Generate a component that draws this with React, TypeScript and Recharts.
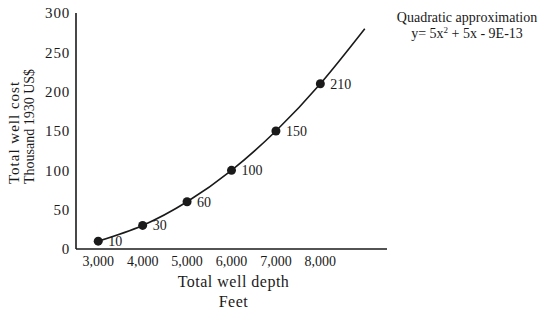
import { LineChart, Line, XAxis, YAxis, LabelList, Label } from "recharts";

// well depth (feet) vs total cost (thousand 1930 US$)
const depths = [3000, 4000, 5000, 6000, 7000, 8000];
const costs = [10, 30, 60, 100, 150, 210];

// quadratic trend curve
const trendDepths = [3000, 4000, 5000, 6000, 7000, 8000, 9000];
const trendCosts = [10, 30, 60, 100, 150, 210, 280];

const xTicks = [3000, 4000, 5000, 6000, 7000, 8000];
const yTicks = [0, 50, 100, 150, 200, 250, 300];

const points = depths.map((d, i) => ({ depth: d, cost: costs[i] }));
const trend = trendDepths.map((d, i) => ({ depth: d, cost: trendCosts[i] }));

const font = "'Liberation Serif', 'Times New Roman', serif";
const ink = "#1a1a1a";

const fmt = (v: number) => v.toLocaleString("en-US");

const XTitle = (props: any) => {
  const { x, width } = props.viewBox;
  const cx = x + width / 2 + 2;
  return (
    <g fontFamily={font} fontSize={16} fill={ink} letterSpacing={0.5}>
      <text x={cx} y={287} textAnchor="middle">Total well depth</text>
      <text x={cx} y={307} textAnchor="middle">Feet</text>
    </g>
  );
};

const YTitle = () => (
  <g fontFamily={font} fill={ink}>
    <text transform="translate(19, 184) rotate(-90)" fontSize={15} letterSpacing={1}>
      Total well cost
    </text>
    <text transform="translate(34, 184) rotate(-90)" fontSize={14}>
      Thousand 1930 US$
    </text>
  </g>
);

export default function App() {
  return (
    <div style={{ position: "absolute", left: 0, top: 0, width: 547, height: 318, background: "#fff" }}>
      <LineChart
        width={547}
        height={318}
        margin={{ top: 13, right: 160, bottom: 39, left: 0 }}
      >
        <XAxis
          type="number"
          dataKey="depth"
          domain={[2500, 9500]}
          ticks={xTicks}
          tickFormatter={fmt}
          tickLine={false}
          tickSize={7}
          tickMargin={0}
          height={30}
          axisLine={{ stroke: ink, strokeWidth: 1.6 }}
          tick={{ fill: ink, fontSize: 14, fontFamily: font }}
          allowDataOverflow
        >
          <Label content={XTitle} />
        </XAxis>
        <YAxis
          type="number"
          dataKey="cost"
          width={76}
          domain={[0, 300]}
          ticks={yTicks}
          tickLine={false}
          tickSize={6}
          tickMargin={0}
          axisLine={{ stroke: ink, strokeWidth: 1.6 }}
          tick={{ fill: ink, fontSize: 15, fontFamily: font, letterSpacing: 0.8 }}
        >
          <Label content={YTitle} />
        </YAxis>
        <Line
          data={trend}
          dataKey="cost"
          type="natural"
          stroke={ink}
          strokeWidth={1.6}
          dot={false}
          isAnimationActive={false}
        />
        <Line
          data={points}
          dataKey="cost"
          stroke="none"
          dot={{ r: 4.5, fill: ink, stroke: ink, strokeWidth: 0 }}
          isAnimationActive={false}
        >
          <LabelList
            dataKey="cost"
            position="right"
            offset={10}
            fill={ink}
            fontSize={14}
            fontFamily={font}
          />
        </Line>
      </LineChart>
      <svg
        width={547}
        height={318}
        style={{ position: "absolute", left: 0, top: 0, pointerEvents: "none" }}
      >
        <g fontFamily={font} fontSize={14} fill={ink} textAnchor="middle">
          <text x={467} y={22}>Quadratic approximation</text>
          <text x={467} y={38}>
            <tspan>y= 5x</tspan>
            <tspan dy={-5} fontSize={9}>2</tspan>
            <tspan dy={5}> + 5x - 9E-13</tspan>
          </text>
        </g>
      </svg>
    </div>
  );
}
